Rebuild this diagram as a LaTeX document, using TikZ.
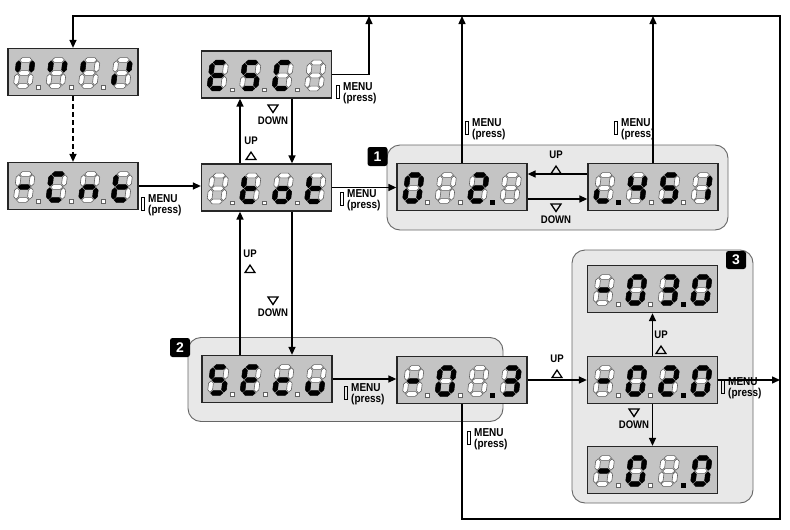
\documentclass[tikz,border=0pt]{standalone}
\usepackage{fontspec}
\setmainfont{Liberation Sans}
\newfontfamily\lblfont[FakeStretch=0.87]{Liberation Sans}
\usetikzlibrary{arrows.meta}

\newcommand\hs[4]{\path[s#4] (#1,#3) -- ({#1+2.4},{#3-2.4}) -- ({#2-2.4},{#3-2.4}) -- (#2,#3) -- ({#2-2.4},{#3+2.4}) -- ({#1+2.4},{#3+2.4}) -- cycle;}
\newcommand\vs[4]{\path[s#4] (#1,#2) -- ({#1+2.4},{#2+2.4}) -- ({#1+2.4},{#3-2.4}) -- (#1,#3) -- ({#1-2.4},{#3-2.4}) -- ({#1-2.4},{#2+2.4}) -- cycle;}
\def\digx#1#2#3#4#5#6#7{%
 \hs{-6.1}{6.1}{-13}{#1}%
 \vs{6.9}{-12.2}{-0.8}{#2}%
 \vs{6.9}{0.8}{12.2}{#3}%
 \hs{-6.1}{6.1}{13}{#4}%
 \vs{-6.9}{0.8}{12.2}{#5}%
 \vs{-6.9}{-12.2}{-0.8}{#6}%
 \hs{-6.1}{6.1}{0}{#7}}
\newcommand\dig[3]{\begin{scope}[shift={(#1)},shift={(#2,1)},xslant=0.12]\digx#3\end{scope}}
\newcommand\dpt[3]{\begin{scope}[shift={(#1)}]\path[s#3] ({#2-1.8},13.4) rectangle ++(3.6,3.6);\end{scope}}
\def\dps#1#2#3#4{\dpt{#1}{-34.5}{#2}\dpt{#1}{-2}{#3}\dpt{#1}{30.5}{#4}}
\newcommand\disp[7]{\node[display] (#1) at #2 {};%
 \dig{#1}{-48.75}{#3}\dig{#1}{-16.25}{#4}\dig{#1}{16.25}{#5}\dig{#1}{48.75}{#6}\dps{#1}#7}
\newcommand\menulbl[3]{\node[menu] (#1) at (#2,#3) {MENU\\(press)};\draw[btn] (#1.north west) ++(-6.5,3.5) rectangle ++(3.4,12.5);}
\newcommand\uplbl[3]{\node[ud,anchor=north] (#1) at (#2,#3) {UP};\draw[tri] (#1.south) ++(-5,14.5) -- ++(10,0) -- ++(-5,-7.5) -- cycle;}
\newcommand\dnlbl[3]{\node[ud,anchor=north] (#1) at (#2,{#3+12}) {DOWN};\draw[tri] (#1.north) ++(-5,-12) -- ++(10,0) -- ++(-5,7.5) -- cycle;}

\begin{document}
\begin{tikzpicture}[x=1pt,y=-1pt,
  conn/.style={line width=1.4pt,draw=black,line join=miter},
  arr/.style={conn,-{Triangle[length=8pt,width=7pt]}},
  display/.style={draw=black!85,line width=1.3pt,fill=black!23,minimum width=130pt,minimum height=47pt,inner sep=0pt},
  region/.style={draw=black!60,line width=0.9pt,fill=black!9,rounded corners=13pt,inner sep=0pt},
  badge/.style={fill=black,text=white,font=\bfseries\fontsize{14}{14}\selectfont,minimum width=20pt,minimum height=19pt,inner sep=0pt,rounded corners=2.5pt},
  menu/.style={anchor=north west,inner sep=0pt,font=\lblfont\bfseries\fontsize{11.5}{11}\selectfont,align=left},
  ud/.style={inner sep=0pt,font=\lblfont\bfseries\fontsize{11}{11}\selectfont},
  btn/.style={draw=black,line width=0.9pt},
  tri/.style={line width=1.3pt,line join=miter},
  s0/.style={fill=white,draw=black!62,line width=0.6pt},
  s1/.style={fill=black,draw=black,line width=0.5pt}]
\useasboundingbox (0,0) rectangle (790,530);
% regions
\node[region,minimum width=341pt,minimum height=85pt] (r1) at (557.5,187.5) {};
\node[region,minimum width=315pt,minimum height=84pt] (r2) at (345.5,379.5) {};
\node[region,minimum width=181pt,minimum height=253pt] (r3) at (662.5,376.5) {};
\node[badge] (b1) at (377.5,156.5) {1};
\node[badge] (b2) at (180,347.5) {2};
\node[badge,minimum height=18pt] (b3) at (736,260) {3};
% displays
\disp{dA}{(73,72)}{0100010}{0100010}{0000010}{0100100}{000}
\disp{dB}{(73,186)}{0000001}{1001110}{0010101}{0001111}{000}
\disp{dESC}{(266.5,74.5)}{1001111}{1011011}{1001110}{0000000}{000}
\disp{dtot}{(266.5,187.5)}{0000000}{0001111}{0011101}{0001111}{000}
\disp{dL}{(462,187)}{1111110}{0000000}{1101101}{0000000}{001}
\disp{dR}{(653,187)}{0001100}{0110011}{1011011}{0110000}{100}
\disp{dS}{(267,379)}{1011011}{1001111}{0001101}{0011100}{000}
\disp{dM}{(462,380)}{0000001}{1111110}{0000000}{1111001}{001}
\disp{dT}{(652.5,289)}{0000001}{1111110}{1111001}{1111110}{001}
\disp{dC}{(652.5,380)}{0000001}{1111110}{1101101}{1111110}{001}
\disp{dD}{(652.5,470)}{0000001}{1111110}{0000000}{1111110}{001}
% coordinates
\coordinate (tl) at (73,16);
\coordinate (tr) at (780,16);
\coordinate (br) at (780,519);
\coordinate (j1) at (369,16);
\coordinate (xu) at (240,0);
\coordinate (xd) at (292,0);
\coordinate (yu) at (0,174);
\coordinate (yd) at (0,199);
% connectors
\draw[arr] (dM.south) |- (br) -- (tr) -- (tl) -- (dA.north);
\draw[arr,dash pattern=on 5pt off 3pt] (dA.south) -- (dB.north);
\draw[arr] (dB.east) -- (dB.east -| dtot.west);
\draw[arr] (dESC.east) -| (j1);
\draw[arr] (dtot.north -| xu) -- (dESC.south -| xu);
\draw[arr] (dESC.south -| xd) -- (dtot.north -| xd);
\draw[arr] (dtot.south -| xd) -- (dS.north -| xd);
\draw[arr] (dS.north -| xu) -- (dtot.south -| xu);
\draw[arr] (dtot.east) -- (dtot.east -| dL.west);
\draw[arr] (dR.west |- yu) -- (dL.east |- yu);
\draw[arr] (dL.east |- yd) -- (dR.west |- yd);
\draw[arr] (dL.north) -- (dL.north |- tl);
\draw[arr] (dR.north) -- (dR.north |- tl);
\draw[arr] (dS.east) -- (dS.east -| dM.west);
\draw[arr] (dM.east) -- (dC.west);
\draw[arr] (dC.north) -- (dT.south);
\draw[arr] (dC.south) -- (dD.north);
\draw[arr] (dC.east) -- (dC.east -| br);
% labels
\menulbl{m1}{148}{194}
\menulbl{m2}{343}{82}
\menulbl{m3}{347}{189}
\menulbl{m4}{472}{118}
\menulbl{m5}{621}{118}
\menulbl{m6}{351}{383}
\menulbl{m7}{474}{428}
\menulbl{m8}{728}{377}
\uplbl{u1}{251}{137}
\dnlbl{n1}{273}{105}
\uplbl{u2}{250}{250}
\dnlbl{n2}{273}{297}
\uplbl{u3}{556}{151}
\dnlbl{n3}{556}{204}
\uplbl{u4}{557}{355}
\uplbl{u5}{661}{331}
\dnlbl{n5}{634}{409}
\end{tikzpicture}
\end{document}
